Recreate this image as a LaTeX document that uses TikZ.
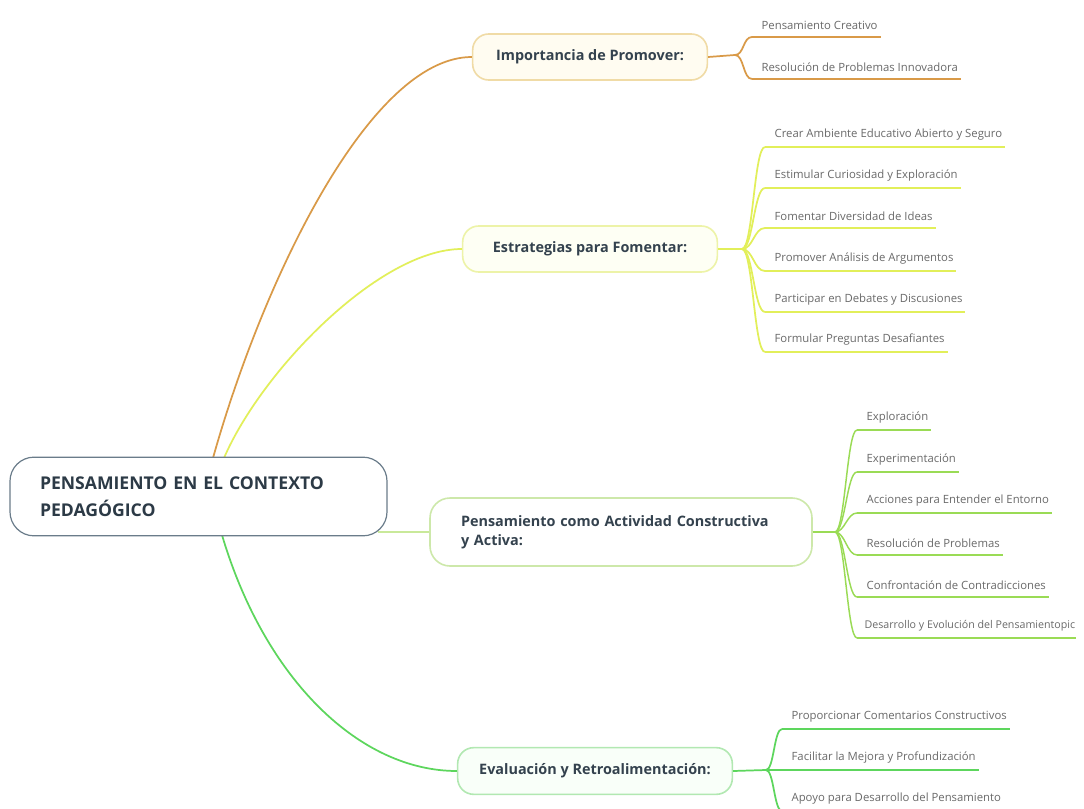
\documentclass[tikz,border=0pt]{standalone}
\usepackage{fontspec}
\setmainfont{Open Sans}
\usetikzlibrary{calc}
\definecolor{rootc}{HTML}{6A7C8A}
\definecolor{roottext}{HTML}{2C3A46}
\definecolor{maintext}{HTML}{34424E}
\definecolor{leaftext}{HTML}{6A6A6A}
\definecolor{orangec}{HTML}{D99A48}
\definecolor{orangeb}{HTML}{F0DBA6}
\definecolor{orangef}{HTML}{FFFCF1}
\definecolor{yellowc}{HTML}{E2EF5A}
\definecolor{yellowb}{HTML}{EDF3A8}
\definecolor{yellowf}{HTML}{FEFFF4}
\definecolor{limec}{HTML}{9ADB55}
\definecolor{limel}{HTML}{C9E99A}
\definecolor{limeb}{HTML}{CDE8AA}
\definecolor{greenc}{HTML}{5DD65D}
\definecolor{greenb}{HTML}{B2E8B2}
\definecolor{greenf}{HTML}{F9FFF9}
\begin{document}
\begin{tikzpicture}[x=0.75pt,y=-0.75pt,
  rootbox/.style={draw=rootc, line width=0.9pt, fill=white, rounded corners=18pt,
    minimum width=282.75pt, minimum height=59pt, text width=237.75pt, align=left,
    font=\bfseries\fontsize{13.2}{20}\selectfont, text=roottext},
  mainbox/.style={line width=1.2pt, rounded corners=12pt, minimum height=34.5pt,
    font=\bfseries\fontsize{10.8}{14}\selectfont, text=maintext},
  leaf/.style={font=\fontsize{8.5}{10}\selectfont, text=leaftext, inner xsep=7pt, inner ysep=5pt},
  c1/.style={draw=orangec, line width=1.3pt},
  c2/.style={draw=yellowc, line width=1.3pt},
  c3/.style={draw=limec, line width=1.1pt},
  c4/.style={draw=greenc, line width=1.3pt},
  u1/.style={draw=orangec, line width=2.2pt, shorten >=5pt},
  u2/.style={draw=yellowc, line width=2.2pt, shorten >=5pt},
  u3/.style={draw=limec, line width=2.2pt, shorten >=5pt},
  u4/.style={draw=greenc, line width=2.2pt, shorten >=5pt}]
\path[use as bounding box, fill=white] (0,0) rectangle (1084,809);

% main connectors (drawn first)
\coordinate (r1) at (213,458);
\coordinate (r2) at (224,458);
\coordinate (r3) at (378,532);
\coordinate (r4) at (222,535);

\node[mainbox, draw=orangeb, fill=orangef, minimum width=176pt] (b1) at (590,57) {Importancia de Promover:};
\node[mainbox, draw=yellowb, fill=yellowf, minimum width=191pt] (b2) at (590,249) {Estrategias para Fomentar:};
\node[mainbox, draw=limeb, fill=white, minimum width=286.5pt, minimum height=51pt,
  rounded corners=15pt, text width=240pt, align=left] (b3) at (621,532)
  {Pensamiento como Actividad Constructiva\\y Activa:};
\node[mainbox, draw=greenb, fill=greenf, minimum width=206pt, minimum height=35pt] (b4) at (595,771) {Evaluación y Retroalimentación:};

\draw[c1] (r1) .. controls (263,280) and (370,57) .. (b1.west);
\draw[c2] (r2) .. controls (262,370) and (380,249) .. (b2.west);
\draw[draw=limel, line width=1.3pt] (r3) -- (b3.west);
\draw[c4] (r4) .. controls (265,680) and (360,771) .. (b4.west);

\node[rootbox] (root) at (198.5,496.5) {PENSAMIENTO EN EL CONTEXTO\\PEDAGÓGICO};

% Branch 1 leaves
\coordinate (h1) at (735,55);
\draw[c1] (b1.east) -- (h1);
\node[leaf, anchor=south west] (a1) at (752,37) {Pensamiento Creativo};
\node[leaf, anchor=south west] (a2) at (752,79) {Resolución de Problemas Innovadora};
\foreach \n in {a1,a2}{
  \draw[u1] (\n.south west) -- (\n.south east);
  \draw[c1] (h1) .. controls +(9,0) and +(-9,0) .. (\n.south west);
}

% Branch 2 leaves
\coordinate (h2) at (742,249);
\draw[c2] (b2.east) -- (h2);
\node[leaf, anchor=south west] (s1) at (765,147) {Crear Ambiente Educativo Abierto y Seguro};
\node[leaf, anchor=south west] (s2) at (765,188) {Estimular Curiosidad y Exploración};
\node[leaf, anchor=south west] (s3) at (765,228) {Fomentar Diversidad de Ideas};
\node[leaf, anchor=south west] (s4) at (765,271) {Promover Análisis de Argumentos};
\node[leaf, anchor=south west] (s5) at (765,312) {Participar en Debates y Discusiones};
\node[leaf, anchor=south west] (s6) at (765,352) {Formular Preguntas Desafiantes};
\foreach \n in {s1,s2,s3,s4,s5,s6}{
  \draw[u2] (\n.south west) -- (\n.south east);
  \draw[c2] (h2) .. controls +(11,0) and +(-11,0) .. (\n.south west);
}

% Branch 3 leaves
\coordinate (h3) at (835,532);
\draw[c3] (b3.east) -- (h3);
\node[leaf, anchor=south west] (p1) at (857,430) {Exploración};
\node[leaf, anchor=south west] (p2) at (857,472) {Experimentación};
\node[leaf, anchor=south west] (p3) at (857,513) {Acciones para Entender el Entorno};
\node[leaf, anchor=south west] (p4) at (857,555) {Resolución de Problemas};
\node[leaf, anchor=south west] (p5) at (857,597) {Confrontación de Contradicciones};
\node[leaf, anchor=south west, font=\fontsize{8}{10}\selectfont, inner xsep=5.5pt] (p6) at (857,638) {Desarrollo y Evolución del Pensamientopic};
\foreach \n in {p1,p2,p3,p4,p5,p6}{
  \draw[u3] (\n.south west) -- (\n.south east);
  \draw[c3] (h3) .. controls +(10,0) and +(-10,0) .. (\n.south west);
}

% Branch 4 leaves
\coordinate (h4) at (766,770);
\draw[c4] (b4.east) -- (h4);
\node[leaf, anchor=south west] (e1) at (782,729) {Proporcionar Comentarios Constructivos};
\node[leaf, anchor=south west] (e2) at (782,770) {Facilitar la Mejora y Profundización};
\node[leaf, anchor=south west] (e3) at (782,811) {Apoyo para Desarrollo del Pensamiento};
\foreach \n in {e1,e2,e3}{
  \draw[u4] (\n.south west) -- (\n.south east);
  \draw[c4] (h4) .. controls +(8,0) and +(-8,0) .. (\n.south west);
}
\end{tikzpicture}
\end{document}
